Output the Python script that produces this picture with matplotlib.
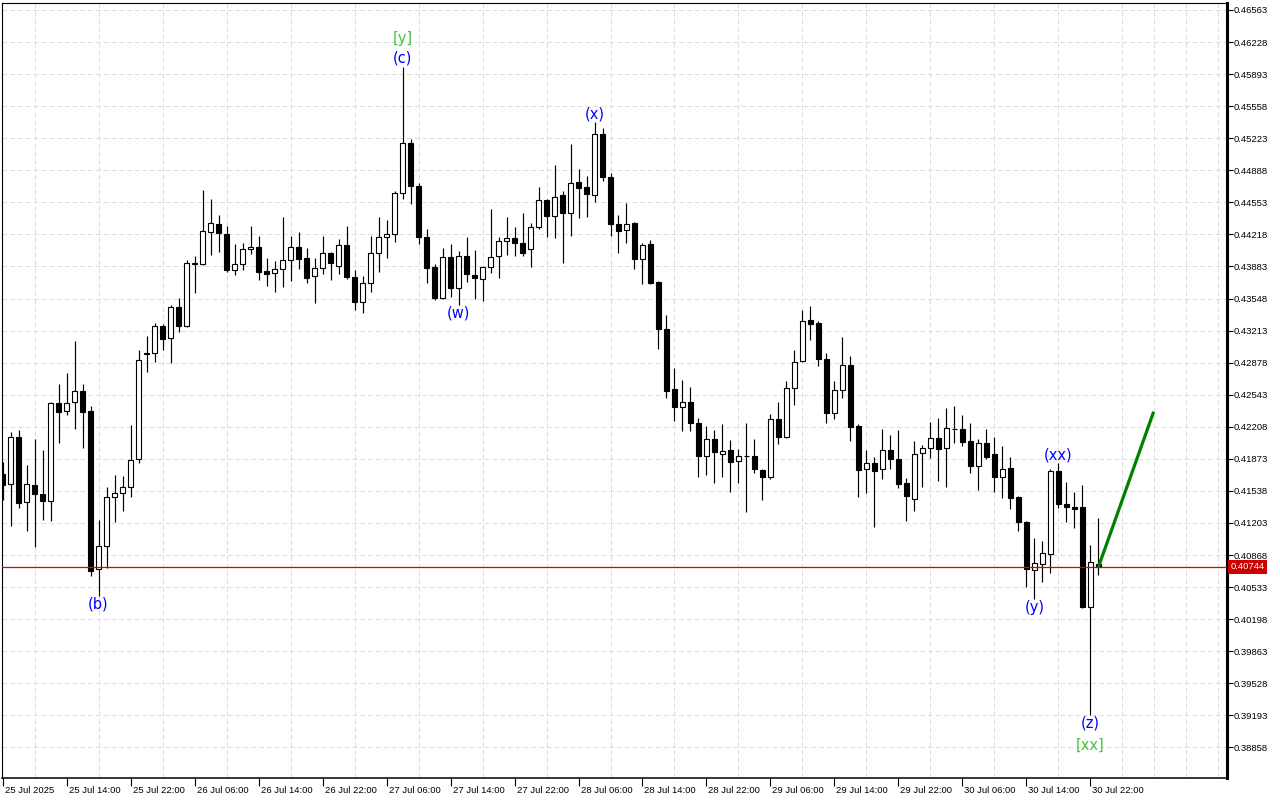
import matplotlib
matplotlib.use("Agg")
import matplotlib.pyplot as plt
from matplotlib.transforms import ScaledTranslation

# hourly bars, 25 Jul 06:00 onwards
opens = [0.41714, 0.41609, 0.42100, 0.41421, 0.41599, 0.41505, 0.41432, 0.42456, 0.42372, 0.42466,
         0.42581, 0.42372, 0.40721, 0.40961, 0.41474, 0.41515, 0.41578, 0.41871, 0.42968, 0.42978,
         0.43260, 0.43135, 0.43459, 0.43260, 0.43908, 0.43908, 0.44243, 0.44326, 0.44222, 0.43846,
         0.43908, 0.44065, 0.44086, 0.43835, 0.43814, 0.43856, 0.43950, 0.44086, 0.43971, 0.43783,
         0.43867, 0.44023, 0.43887, 0.44107, 0.43772, 0.43511, 0.43710, 0.44023, 0.44190, 0.44222,
         0.44650, 0.45173, 0.44723, 0.44190, 0.43877, 0.43553, 0.43981, 0.43657, 0.43992, 0.43793,
         0.43752, 0.43877, 0.43992, 0.44149, 0.44180, 0.44128, 0.44065, 0.44295, 0.44577, 0.44410,
         0.44629, 0.44441, 0.44765, 0.44713, 0.44629, 0.45267, 0.44817, 0.44326, 0.44264, 0.44337,
         0.43961, 0.44117, 0.43720, 0.43229, 0.42602, 0.42414, 0.42466, 0.42247, 0.41902, 0.42080,
         0.41923, 0.41965, 0.41850, 0.41902, 0.41902, 0.41756, 0.41682, 0.42289, 0.42100, 0.42613,
         0.42895, 0.43323, 0.43292, 0.42916, 0.42351, 0.42592, 0.42853, 0.42215, 0.41766, 0.41829,
         0.41766, 0.41965, 0.41871, 0.41620, 0.41453, 0.41933, 0.41985, 0.42090, 0.41985, 0.42184,
         0.42184, 0.42059, 0.41797, 0.42038, 0.41923, 0.41682, 0.41777, 0.41474, 0.41212, 0.40711,
         0.40773, 0.40878, 0.41745, 0.41400, 0.41369, 0.41369, 0.40325, 0.40770]
highs = [0.41839, 0.42153, 0.42174, 0.41808, 0.42080, 0.41965, 0.42466, 0.42654, 0.42769, 0.43104,
         0.42654, 0.42424, 0.41233, 0.41578, 0.41703, 0.41693, 0.42226, 0.43010, 0.43156, 0.43292,
         0.43281, 0.43480, 0.43553, 0.43950, 0.43992, 0.44682, 0.44588, 0.44420, 0.44305, 0.44117,
         0.44128, 0.44305, 0.44201, 0.43971, 0.43940, 0.44399, 0.44201, 0.44243, 0.44075, 0.43971,
         0.44201, 0.44034, 0.44170, 0.44305, 0.43846, 0.43783, 0.44201, 0.44399, 0.44368, 0.44671,
         0.45967, 0.45215, 0.44755, 0.44274, 0.43908, 0.44075, 0.44117, 0.44044, 0.44190, 0.44055,
         0.43887, 0.44483, 0.44190, 0.44399, 0.44295, 0.44441, 0.44337, 0.44713, 0.44588, 0.44943,
         0.44671, 0.45162, 0.44901, 0.44828, 0.45392, 0.45329, 0.44859, 0.44420, 0.44546, 0.44347,
         0.44128, 0.44159, 0.43731, 0.43375, 0.42822, 0.42696, 0.42623, 0.42299, 0.42215, 0.42174,
         0.42236, 0.42069, 0.41975, 0.42247, 0.42080, 0.41766, 0.42341, 0.42466, 0.42686, 0.43010,
         0.43428, 0.43469, 0.43313, 0.42978, 0.42686, 0.43145, 0.42947, 0.42236, 0.41965, 0.41891,
         0.42184, 0.42122, 0.42174, 0.41672, 0.42059, 0.42017, 0.42257, 0.42299, 0.42403, 0.42424,
         0.42330, 0.42247, 0.42080, 0.42184, 0.42100, 0.42006, 0.41891, 0.41484, 0.41223, 0.41045,
         0.41014, 0.41766, 0.41829, 0.41630, 0.41526, 0.41599, 0.40972, 0.41254]
lows = [0.41442, 0.41170, 0.41358, 0.41118, 0.40951, 0.41233, 0.41223, 0.42038, 0.42330, 0.42184,
        0.41985, 0.40648, 0.40439, 0.40732, 0.41212, 0.41327, 0.41474, 0.41829, 0.42780, 0.42884,
        0.43010, 0.42874, 0.43198, 0.43250, 0.43605, 0.43898, 0.44002, 0.44034, 0.43825, 0.43793,
        0.43846, 0.44013, 0.43741, 0.43678, 0.43616, 0.43668, 0.43731, 0.43856, 0.43710, 0.43501,
        0.43804, 0.43741, 0.43804, 0.43752, 0.43428, 0.43396, 0.43616, 0.43825, 0.43971, 0.44138,
        0.44588, 0.44535, 0.44117, 0.43710, 0.43532, 0.43542, 0.43564, 0.43480, 0.43720, 0.43542,
        0.43522, 0.43814, 0.43762, 0.44002, 0.43992, 0.43992, 0.43877, 0.44274, 0.44190, 0.44180,
        0.43919, 0.44201, 0.44389, 0.44399, 0.44556, 0.44776, 0.44201, 0.44023, 0.44128, 0.43856,
        0.43699, 0.43699, 0.43020, 0.42508, 0.42268, 0.42163, 0.42163, 0.41682, 0.41703, 0.41620,
        0.41682, 0.41526, 0.41620, 0.41317, 0.41724, 0.41442, 0.41662, 0.42027, 0.42090, 0.42435,
        0.42884, 0.43114, 0.42842, 0.42247, 0.42289, 0.42508, 0.42059, 0.41474, 0.41515, 0.41160,
        0.41662, 0.41766, 0.41568, 0.41223, 0.41327, 0.41578, 0.41881, 0.41641, 0.41578, 0.42038,
        0.42006, 0.41724, 0.41547, 0.41871, 0.41526, 0.41463, 0.41348, 0.41118, 0.40533, 0.40408,
        0.40585, 0.40679, 0.41358, 0.41212, 0.41149, 0.40314, 0.39196, 0.40658]
closes = [0.41599, 0.42100, 0.41411, 0.41609, 0.41505, 0.41432, 0.42456, 0.42362, 0.42456, 0.42581,
          0.42362, 0.40700, 0.40961, 0.41474, 0.41515, 0.41578, 0.41860, 0.42905, 0.42978, 0.43260,
          0.43125, 0.43459, 0.43260, 0.43919, 0.43919, 0.44253, 0.44337, 0.44232, 0.43846, 0.43908,
          0.44065, 0.44086, 0.43825, 0.43804, 0.43856, 0.43950, 0.44086, 0.43961, 0.43762, 0.43867,
          0.44023, 0.43919, 0.44107, 0.43772, 0.43511, 0.43710, 0.44023, 0.44190, 0.44222, 0.44650,
          0.45173, 0.44723, 0.44190, 0.43867, 0.43553, 0.43981, 0.43657, 0.43992, 0.43804, 0.43762,
          0.43877, 0.43981, 0.44149, 0.44180, 0.44128, 0.44023, 0.44295, 0.44577, 0.44410, 0.44609,
          0.44441, 0.44755, 0.44703, 0.44640, 0.45267, 0.44817, 0.44326, 0.44253, 0.44326, 0.43961,
          0.44107, 0.43710, 0.43229, 0.42581, 0.42414, 0.42466, 0.42247, 0.41902, 0.42080, 0.41944,
          0.41954, 0.41839, 0.41902, 0.41898, 0.41766, 0.41682, 0.42289, 0.42100, 0.42613, 0.42884,
          0.43313, 0.43281, 0.42916, 0.42351, 0.42592, 0.42853, 0.42205, 0.41756, 0.41829, 0.41745,
          0.41965, 0.41871, 0.41609, 0.41484, 0.41923, 0.41985, 0.42090, 0.41975, 0.42194, 0.42180,
          0.42048, 0.41797, 0.42038, 0.41891, 0.41682, 0.41766, 0.41463, 0.41212, 0.40721, 0.40784,
          0.40888, 0.41745, 0.41400, 0.41369, 0.41348, 0.40325, 0.40794, 0.40744]

time_labels = ["25 Jul 2025", "25 Jul 14:00", "25 Jul 22:00", "26 Jul 06:00", "26 Jul 14:00",
               "26 Jul 22:00", "27 Jul 06:00", "27 Jul 14:00", "27 Jul 22:00", "28 Jul 06:00",
               "28 Jul 14:00", "28 Jul 22:00", "29 Jul 06:00", "29 Jul 14:00", "29 Jul 22:00",
               "30 Jul 06:00", "30 Jul 14:00", "30 Jul 22:00"]
price_labels = ["0.46563", "0.46228", "0.45893", "0.45558", "0.45223", "0.44888", "0.44553",
                "0.44218", "0.43883", "0.43548", "0.43213", "0.42878", "0.42543", "0.42208",
                "0.41873", "0.41538", "0.41203", "0.40868", "0.40533", "0.40198", "0.39863",
                "0.39528", "0.39193", "0.38858"]
current_price = 0.40744

# forecast line (bar index, price)
trend_x = [137, 143.9]
trend_y = [0.40744, 0.42365]

# wave marks: text, bar index, side, colour, pixel offset
wave_marks = [("(b)", 12, "low", "#0000ff", 8),
              ("[y]", 50, "high", "#44c43a", 29),
              ("(c)", 50, "high", "#0000ff", 9),
              ("(w)", 57, "low", "#0000ff", 8),
              ("(x)", 74, "high", "#0000ff", 8),
              ("(y)", 129, "low", "#0000ff", 8),
              ("(xx)", 132, "high", "#0000ff", 8),
              ("(z)", 136, "low", "#0000ff", 8),
              ("[xx]", 136, "low", "#44c43a", 30)]

fig = plt.figure(figsize=(12.8, 8), dpi=100)
ax = fig.add_axes([2.3 / 1280, 1 - 778 / 800, 1224.4 / 1280, 775.3 / 800])

x = list(range(len(opens)))
ax.vlines(x, lows, highs, colors="black", linewidth=0.85, zorder=2)
for i in x:
    o, c = opens[i], closes[i]
    up = c >= o
    ax.bar(i, max(abs(c - o), 0.000005), bottom=min(o, c), width=0.6,
           facecolor="white" if up else "black", edgecolor="black",
           linewidth=0.8, zorder=3)

ax.axhline(current_price, color="#e00000", linewidth=0.9, zorder=4)
ax.plot(trend_x, trend_y, color="#008000", linewidth=2.3, zorder=5,
        solid_capstyle="butt")

for text, idx, side, col, off in wave_marks:
    if side == "high":
        y, dy = highs[idx], off
    else:
        y, dy = lows[idx], -off
    ax.annotate(text, (idx, y), xytext=(0, dy), textcoords="offset pixels",
                ha="center", va="center", fontsize=10.5, color=col, zorder=6)

ax.set_xlim(-0.03, 153.03)
ax.set_ylim(0.38538, 0.46639)

price_ticks = [float(p) for p in price_labels]
ax.yaxis.tick_right()
ax.set_yticks(price_ticks, labels=price_labels)
ax.tick_params(axis="y", direction="out", length=4, width=0.8, pad=1,
               labelsize=6.8, labelfontfamily="Liberation Sans")

ax.set_xticks(list(range(0, 8 * len(time_labels), 8)), labels=time_labels)
ax.set_xticks(list(range(0, 153, 4)), minor=True)
ax.tick_params(axis="x", which="major", direction="out", length=6, width=0.8,
               pad=0, labelsize=6.8, labelfontfamily="Liberation Sans")
ax.tick_params(axis="x", which="minor", length=0)
shift = ScaledTranslation(2 / 100, 0, fig.dpi_scale_trans)
for lbl in ax.get_xticklabels():
    lbl.set_ha("left")
    lbl.set_transform(lbl.get_transform() + shift)

grid_kw = dict(color="#dcdcdc", linestyle=(0, (5, 3)), linewidth=0.7)
ax.grid(axis="y", which="major", **grid_kw)
ax.grid(axis="x", which="minor", **grid_kw)
ax.set_axisbelow(True)

ax.spines["right"].set_linewidth(2.2)
ax.spines["bottom"].set_linewidth(1.1)
ax.spines["left"].set_linewidth(0.8)
ax.spines["top"].set_linewidth(0.8)

ax.annotate(f"{current_price:.5f}", (1.0, current_price),
            xycoords=("axes fraction", "data"), xytext=(4, 0),
            textcoords="offset pixels", ha="left", va="center",
            fontsize=6.8, family="Liberation Sans", color="white",
            bbox=dict(boxstyle="square,pad=0.25", facecolor="#cc0000",
                      edgecolor="none"), annotation_clip=False, zorder=7)

fig.savefig("out.png", dpi=100, facecolor="white")
